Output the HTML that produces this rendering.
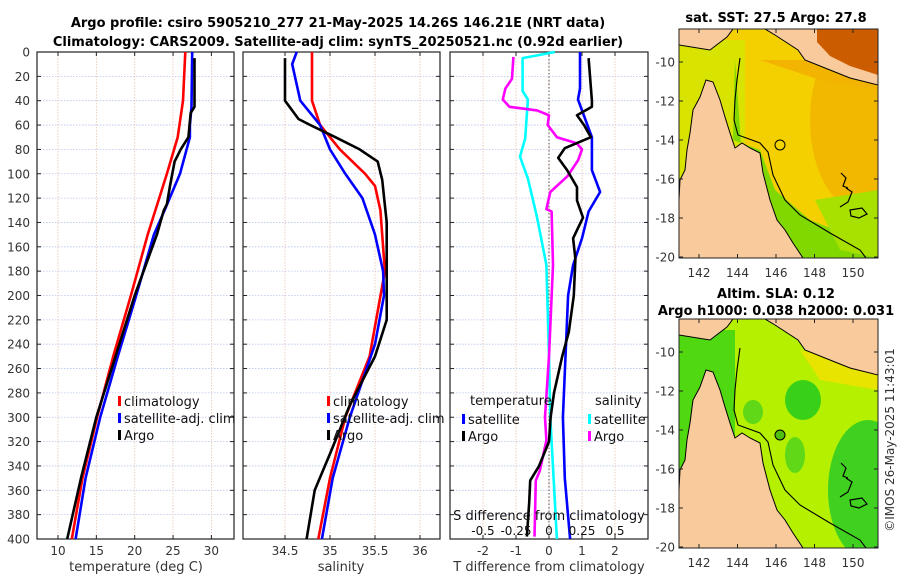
<!DOCTYPE html>
<html><head><meta charset="utf-8"><style>
html,body{margin:0;padding:0;background:#fff;}
svg{display:block;font-family:"DejaVu Sans","Liberation Sans",sans-serif;}
</style></head><body>
<svg id="c" width="900" height="580" viewBox="0 0 900 580" xmlns="http://www.w3.org/2000/svg">
<text x="338" y="27" font-size="13" font-weight="bold" text-anchor="middle">Argo profile: csiro 5905210_277 21-May-2025 14.26S 146.21E (NRT data)</text>
<text x="338" y="46" font-size="13" font-weight="bold" text-anchor="middle">Climatology: CARS2009. Satellite-adj clim: synTS_20250521.nc (0.92d earlier)</text>
<g id="maps"></g>
<g id="plots"></g>
</svg>
<script>
// ---- data (depth in m) ----
const tempArgoDepth=[5,45,50,70,80,90,110,125,130,150,200,250,300,350,400];
const tempArgo=[27.8,27.8,27.3,27.0,26.0,25.2,24.6,24.2,23.8,22.9,20.0,17.5,15.0,13.0,11.2];
const tempClimDepth=[0,40,70,100,150,200,250,300,350,400];
const tempClim=[26.6,26.3,25.6,24.2,21.7,19.5,17.2,15.1,13.2,11.8];
const tempSatDepth=[0,45,60,70,100,130,150,200,250,300,350,400];
const tempSat=[27.5,27.4,27.2,27.2,25.9,23.9,22.5,20.2,17.8,15.5,13.6,12.3];
const salArgoDepth=[5,40,50,55,60,70,80,90,105,140,220,250,290,330,360,400];
const salArgo=[34.5,34.5,34.6,34.65,34.78,35.06,35.33,35.53,35.58,35.63,35.63,35.5,35.22,35.0,34.83,34.74];
const salClimDepth=[0,40,60,80,100,110,130,180,250,300,350,400];
const salClim=[34.8,34.8,34.89,35.11,35.39,35.5,35.56,35.61,35.44,35.17,35.0,34.87];
const salSatDepth=[0,10,40,60,80,100,120,150,180,200,240,300,350,400];
const salSat=[34.63,34.58,34.67,34.89,35.0,35.17,35.36,35.5,35.59,35.6,35.5,35.22,35.03,34.91];
const dTArgoDepth=[5,40,45,52,60,70,79,87,97,111,122,136,153,170,200,230,250,280,300,320,340,352,370,398];
const dTArgo=[1.2,1.3,1.3,0.85,1.06,1.27,0.48,0.28,0.55,0.85,0.85,1.03,0.73,0.8,0.75,0.6,0.4,0.15,0.05,0.0,-0.3,-0.57,-0.6,-0.67];
const dTSatDepth=[0,30,39,70,97,115,131,153,175,200,250,300,350,400];
const dTSat=[0.94,0.94,0.88,1.3,1.3,1.55,1.2,1.0,0.73,0.58,0.5,0.42,0.48,0.64];
const dSSatDepth=[0,5,32,39,71,86,104,136,175,250,300,400];
const dSSat=[0.045,-0.2,-0.2,-0.16,-0.18,-0.22,-0.16,-0.09,-0.02,0,0.01,0.06];
const dSArgoDepth=[4,22,30,39,45,48,52,60,70,75,80,89,102,115,129,131,175,250,300,319,344,352,398];
const dSArgo=[-0.27,-0.28,-0.33,-0.35,-0.3,-0.09,0,-0.01,0.06,0.21,0.25,0.22,0.14,0.01,-0.02,0.02,0.03,0,-0.03,-0.02,-0.07,-0.1,-0.11];
const depthTicks=[0,20,40,60,80,100,120,140,160,180,200,220,240,260,280,300,320,340,360,380,400];
const tempTicks=[10,15,20,25,30];
const salTicks=[34.5,35,35.5,36];
const dTTicks=[-2,-1,0,1,2];
const dSTicks=[-0.5,-0.25,0,0.25,0.5];
const latTicks=[-10,-12,-14,-16,-18,-20];
const lonTicks=[142,144,146,148,150];

const NS="http://www.w3.org/2000/svg";
function mk(tag,attrs,parent,txt){const e=document.createElementNS(NS,tag);for(const k in attrs)e.setAttribute(k,attrs[k]);if(txt!==undefined)e.textContent=txt;parent.appendChild(e);return e;}
const plots=document.getElementById('plots');
const Y0=52,Y1=539;
const yD=d=>Y0+d*(Y1-Y0)/400;
const xT=t=>58+(t-10)*7.67;
const xS=s=>330+(s-35)*90;
const xDT=t=>549+t*33;
const xDS=s=>549+s*132;

function panel(name,x0,x1,xf,ticks,label,title,titleX){
  const g=mk('g',{},plots);
  
  
  for(const d of depthTicks){if(d===0||d===400)continue;const l=mk('line',{x1:x0,x2:x1,y1:yD(d),y2:yD(d),stroke:'#b8c4ee','stroke-width':0.8,'stroke-dasharray':'1.5,1.5'},g);}
  for(const t of ticks){const x=xf(t);const l=mk('line',{x1:x,x2:x,y1:Y0,y2:Y1,stroke:'#e8c0b0','stroke-width':0.8,'stroke-dasharray':'1.5,1.5'},g);
    mk('line',{x1:x,x2:x,y1:Y1,y2:Y1-4,stroke:'#222'},g);mk('line',{x1:x,x2:x,y1:Y0,y2:Y0+4,stroke:'#222'},g);
    const tl=mk('text',{x:x,y:Y1+16,'font-size':12,fill:'#333','text-anchor':'middle'},g,label(t));}
  for(const d of depthTicks){mk('line',{x1:x0,x2:x0+4,y1:yD(d),y2:yD(d),stroke:'#222'},g);mk('line',{x1:x1,x2:x1-4,y1:yD(d),y2:yD(d),stroke:'#222'},g);}
  const r=mk('rect',{x:x0,y:Y0,width:x1-x0,height:Y1-Y0,fill:'none',stroke:'#222','stroke-width':1.2},g);
  const t=mk('text',{x:titleX,y:571,'font-size':13,fill:'#333','text-anchor':'middle'},g,title);
  return g;
}
function line(g,depths,vals,xf,color,name){
  const pts=depths.map((d,i)=>xf(vals[i]).toFixed(1)+','+yD(d).toFixed(1)).join(' ');
  const p=mk('polyline',{points:pts,fill:'none',stroke:color,'stroke-width':2.6,'stroke-linejoin':'round'},g);
  
  
}
function legend(g,x,y,items){
  items.forEach((it,i)=>{const yy=y+i*17;mk('rect',{x:x,y:yy-9,width:3,height:10,fill:it[1]},g);
    const t=mk('text',{x:x+6,y:yy+1,'font-size':13,fill:'#111'},g,it[0]);});
}
for(const d of depthTicks){const t=mk('text',{x:30,y:yD(d)+4.5,'font-size':12,fill:'#333','text-anchor':'end'},plots,String(d));}

const g1=panel('temperature-panel',37,234,xT,tempTicks,String,'temperature (deg C)',136);
line(g1,tempClimDepth,tempClim,xT,'#ff0000','climatology-temp-line');
line(g1,tempSatDepth,tempSat,xT,'#0000ff','satellite-temp-line');
line(g1,tempArgoDepth,tempArgo,xT,'#000','argo-temp-line');
legend(g1,118,405,[['climatology','#f00'],['satellite-adj. clim','#00f'],['Argo','#000']]);

const g2=panel('salinity-panel',243,440,xS,salTicks,String,'salinity',341);
line(g2,salClimDepth,salClim,xS,'#ff0000','climatology-sal-line');
line(g2,salSatDepth,salSat,xS,'#0000ff','satellite-sal-line');
line(g2,salArgoDepth,salArgo,xS,'#000','argo-sal-line');
legend(g2,327,405,[['climatology','#f00'],['satellite-adj. clim','#00f'],['Argo','#000']]);

const g3=panel('difference-panel',450,648,xDT,dTTicks,String,'T difference from climatology',549);
mk('line',{x1:xDT(0),x2:xDT(0),y1:Y0,y2:Y1,stroke:'#555','stroke-dasharray':'1.5,2'},g3);
line(g3,dSSatDepth,dSSat,xDS,'#00ffff','satellite-sal-diff-line');
line(g3,dSArgoDepth,dSArgo,xDS,'#ff00ff','argo-sal-diff-line');
line(g3,dTSatDepth,dTSat,xDT,'#0000ff','satellite-temp-diff-line');
line(g3,dTArgoDepth,dTArgo,xDT,'#000','argo-temp-diff-line');
const tt=mk('text',{x:470,y:405,'font-size':13,fill:'#111'},g3,'temperature');
const ts=mk('text',{x:595,y:405,'font-size':13,fill:'#111'},g3,'salinity');
legend(g3,462,423,[['satellite','#00f'],['Argo','#000']]);
legend(g3,588,423,[['satellite','#0ff'],['Argo','#f0f']]);
const st=mk('text',{x:549,y:520,'font-size':13,fill:'#111','text-anchor':'middle'},g3,'S difference from climatology');
for(const s of dSTicks){const t=mk('text',{x:xDS(s),y:535,'font-size':12,fill:'#111','text-anchor':'middle'},g3,String(s));}

// ---- maps ----
const maps=document.getElementById('maps');
const mx=lon=>699+(lon-142)*19.25;
function drawMap(name,dy,title,sub,kind){
  const g=mk('g',{transform:'translate(0,'+dy+')'},maps);
  
  
  const clipId='clip'+dy;
  const cp=mk('clipPath',{id:clipId},g);mk('rect',{x:679,y:29,width:199,height:229},cp);
  const b=mk('g',{'clip-path':'url(#'+clipId+')'},g);
  if(kind==='sst'){
    mk('rect',{x:679,y:29,width:199,height:229,fill:'#f4d000'},b);
    mk('ellipse',{cx:860,cy:120,rx:50,ry:90,fill:'#f2b800'},b);
    mk('polygon',{points:'760,60 878,60 878,90 820,80',fill:'#f2b400'},b);
    mk('polygon',{points:'679,40 745,40 745,258 679,258',fill:'#d8e400'},b);
    mk('polygon',{points:'735,60 733,140 760,150 775,190 810,220 860,240 878,250 878,258 760,258 745,200',fill:'#80d800'},b);
    mk('polygon',{points:'679,200 690,170 800,258 679,258',fill:'#20c060'},b);
    mk('polygon',{points:'815,200 878,190 878,258 840,250',fill:'#a8e000'},b);
  } else {
    mk('rect',{x:679,y:29,width:199,height:229,fill:'#b4f000'},b);
    mk('polygon',{points:'679,40 735,40 735,258 679,258',fill:'#50d810'},b);
    mk('ellipse',{cx:803,cy:110,rx:18,ry:20,fill:'#38d018'},b);
    mk('ellipse',{cx:753,cy:122,rx:10,ry:12,fill:'#60d818'},b);
    mk('ellipse',{cx:795,cy:165,rx:10,ry:18,fill:'#60d818'},b);
    mk('ellipse',{cx:868,cy:200,rx:40,ry:70,fill:'#40d020'},b);
    mk('polygon',{points:'800,60 878,80 878,100 820,90',fill:'#e8e400'},b);
  }
  mk('polygon',{points:'706,80 713,82 720,100 725,117 730,133 735,148 742,143 750,148 760,153 763,173 770,200 777,220 785,230 793,243 803,258 679,258 679,200 680,180 685,170 687,150 690,133 693,110 700,97',fill:'#f9cb9c',stroke:'#000','stroke-width':1},b);
  mk('polygon',{points:'679,29 733,29 727,37 710,50 679,45',fill:'#f9cb9c',stroke:'#000','stroke-width':1},b);
  mk('polygon',{points:'765,29 878,29 878,85 850,78 830,70 805,60 798,50 775,35',fill:'#f9cb9c',stroke:'#000','stroke-width':1},b);
  if(kind==='sst') mk('polygon',{points:'817,29 878,29 878,75 850,66 830,56 817,42',fill:'#cc5c00'},b);
  mk('polyline',{points:'740,58 737,80 735,100 734,120 738,135 760,143 768,152 773,175 785,200 800,215 830,233 860,250 866,258',fill:'none',stroke:'#000','stroke-width':1.1},b);
  mk('path',{d:'M841,173 l5,5 -3,8 5,2 M846,188 l6,4 -4,10 -8,5 M850,210 l12,-2 5,6 -8,4 -8,-2z',fill:'none',stroke:'#000','stroke-width':1.2},b);
  const mk1=mk('circle',{cx:780,cy:145,r:5,fill:kind==='sst'?'#f2d400':'#50c010',stroke:'#000','stroke-width':1},g);
  
  mk('rect',{x:679,y:29,width:199,height:229,fill:'none',stroke:'#222','stroke-width':1},g);
  latTicks.forEach(l=>{const y=62+(-10-l)*19.5;mk('line',{x1:878,x2:874,y1:y,y2:y,stroke:'#222'},g);mk('line',{x1:679,x2:683,y1:y,y2:y,stroke:'#222'},g);
    const t=mk('text',{x:675,y:y+4.5,'font-size':12,fill:'#333','text-anchor':'end'},g,String(l));});
  lonTicks.forEach(l=>{const x=mx(l);mk('line',{x1:x,x2:x,y1:258,y2:254,stroke:'#222'},g);mk('line',{x1:x,x2:x,y1:29,y2:33,stroke:'#222'},g);
    const t=mk('text',{x:x,y:277,'font-size':12,fill:'#333','text-anchor':'middle'},g,String(l));});
  const t1=mk('text',{x:776,y:22,'font-size':13,'font-weight':'bold','text-anchor':'middle'},g,title);
  if(sub){t1.setAttribute('y','8');const t2=mk('text',{x:776,y:25,'font-size':13,'font-weight':'bold','text-anchor':'middle'},g,sub);}
}
drawMap('sst-map',0,'sat. SST: 27.5 Argo: 27.8',null,'sst');
drawMap('sla-map',290,'Altim. SLA: 0.12','Argo h1000: 0.038 h2000: 0.031','sla');
const cr=mk('text',{x:0,y:0,'font-size':12,fill:'#333','text-anchor':'middle',transform:'translate(894,440) rotate(-90)'},maps,'©IMOS 26-May-2025 11:43:01');


</script>
</body></html>
